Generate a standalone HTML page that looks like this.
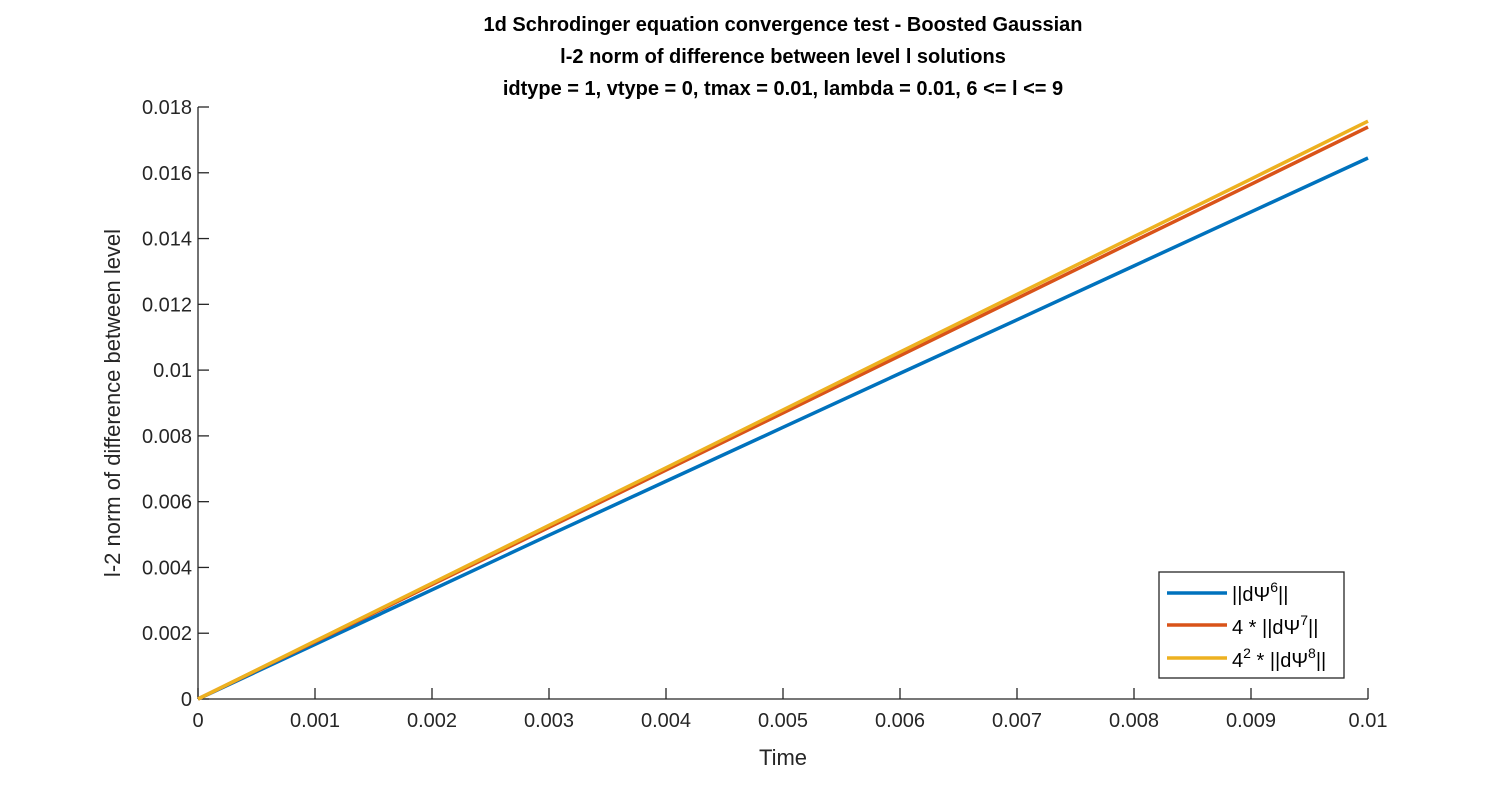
<!DOCTYPE html>
<html><head><meta charset="utf-8"><style>
body{margin:0;background:#fff;}
svg{font-family:"Liberation Sans",sans-serif;}
</style></head><body>
<svg id="chart" width="1512" height="786">
<g font-weight="bold" font-size="20" text-anchor="middle" fill="#000">
<text x="783" y="31">1d Schrodinger equation convergence test - Boosted Gaussian</text>
<text x="783" y="63">l-2 norm of difference between level l solutions</text>
<text x="783" y="95">idtype = 1, vtype = 0, tmax = 0.01, lambda = 0.01, 6 &lt;= l &lt;= 9</text>
</g>
<g id="axes"></g>
<g id="series"></g>
<text x="783" y="765" font-size="22" text-anchor="middle" fill="#262626">Time</text>
<text transform="translate(120,403) rotate(-90)" font-size="22" text-anchor="middle" fill="#262626">l-2 norm of difference between level</text>
<g>
<rect x="1159" y="572" width="185" height="106" fill="#fff" stroke="#262626" stroke-width="1.3"/>
<line x1="1167" y1="593" x2="1227" y2="593" stroke="#0072BD" stroke-width="3.5"/>
<text x="1232" y="601" font-size="20">||dΨ<tspan font-size="14" dy="-9">6</tspan><tspan dy="9">||</tspan></text>
<line x1="1167" y1="625" x2="1227" y2="625" stroke="#D95319" stroke-width="3.5"/>
<text x="1232" y="634" font-size="20">4 * ||dΨ<tspan font-size="14" dy="-9">7</tspan><tspan dy="9">||</tspan></text>
<line x1="1167" y1="658" x2="1227" y2="658" stroke="#EDB120" stroke-width="3.5"/>
<text x="1232" y="667" font-size="20">4<tspan font-size="14" dy="-9">2</tspan><tspan dy="9"> * ||dΨ</tspan><tspan font-size="14" dy="-9">8</tspan><tspan dy="9">||</tspan></text>
</g>
</svg>
<script>
const times=[0,0.001,0.002,0.003,0.004,0.005,0.006,0.007,0.008,0.009,0.01];
const dpsi6=[0,0.00166,0.00332,0.00498,0.00662,0.00826,0.00990,0.01153,0.01317,0.01481,0.01645];
const dpsi7=[0,0.00174,0.00348,0.00522,0.00696,0.00870,0.01044,0.01218,0.01392,0.01565,0.01739];
const dpsi8=[0,0.00176,0.00352,0.00528,0.00703,0.00879,0.01055,0.01230,0.01406,0.01581,0.01757];
const xTicks=[0,0.001,0.002,0.003,0.004,0.005,0.006,0.007,0.008,0.009,0.01];
const xTickLabels=["0","0.001","0.002","0.003","0.004","0.005","0.006","0.007","0.008","0.009","0.01"];
const yTicks=[0,0.002,0.004,0.006,0.008,0.01,0.012,0.014,0.016,0.018];
const yTickLabels=["0","0.002","0.004","0.006","0.008","0.01","0.012","0.014","0.016","0.018"];
const NS="http://www.w3.org/2000/svg";
const X0=198,X1=1368,Y0=699,Y1=107;
const xs=v=>X0+(v-0)/(0.01)*(X1-X0);
const ys=v=>Y0-(v/0.018)*(Y0-Y1);
function mk(t,a,p){const e=document.createElementNS(NS,t);for(const k in a)e.setAttribute(k,a[k]);p.appendChild(e);return e;}
const ax=document.getElementById('axes');
const xa=mk('line',{x1:X0,y1:Y0,x2:X1,y2:Y0,stroke:'#262626','stroke-width':1.3},ax);


const ya=mk('line',{x1:X0,y1:Y0,x2:X0,y2:Y1,stroke:'#262626','stroke-width':1.3},ax);


xTicks.forEach((v,i)=>{const x=xs(v);
const t=mk('line',{x1:x,y1:Y0,x2:x,y2:Y0-11,stroke:'#262626','stroke-width':1.3},ax);


const l=mk('text',{x:x,y:Y0+28,'font-size':20,'text-anchor':'middle',fill:'#262626'},ax);l.textContent=xTickLabels[i];

});
yTicks.forEach((v,i)=>{const y=ys(v);
const t=mk('line',{x1:X0,y1:y,x2:X0+11,y2:y,stroke:'#262626','stroke-width':1.3},ax);


const l=mk('text',{x:X0-6,y:y+7,'font-size':20,'text-anchor':'end',fill:'#262626'},ax);l.textContent=yTickLabels[i];

});
const sg=document.getElementById('series');
[[dpsi6,'#0072BD','line-dpsi6'],[dpsi7,'#D95319','line-dpsi7'],[dpsi8,'#EDB120','line-dpsi8']].forEach(([d,c,n])=>{
const p=mk('polyline',{points:d.map((v,i)=>xs(times[i])+','+ys(v)).join(' '),fill:'none',stroke:c,'stroke-width':3.5},sg);

});
</script>
</body></html>
